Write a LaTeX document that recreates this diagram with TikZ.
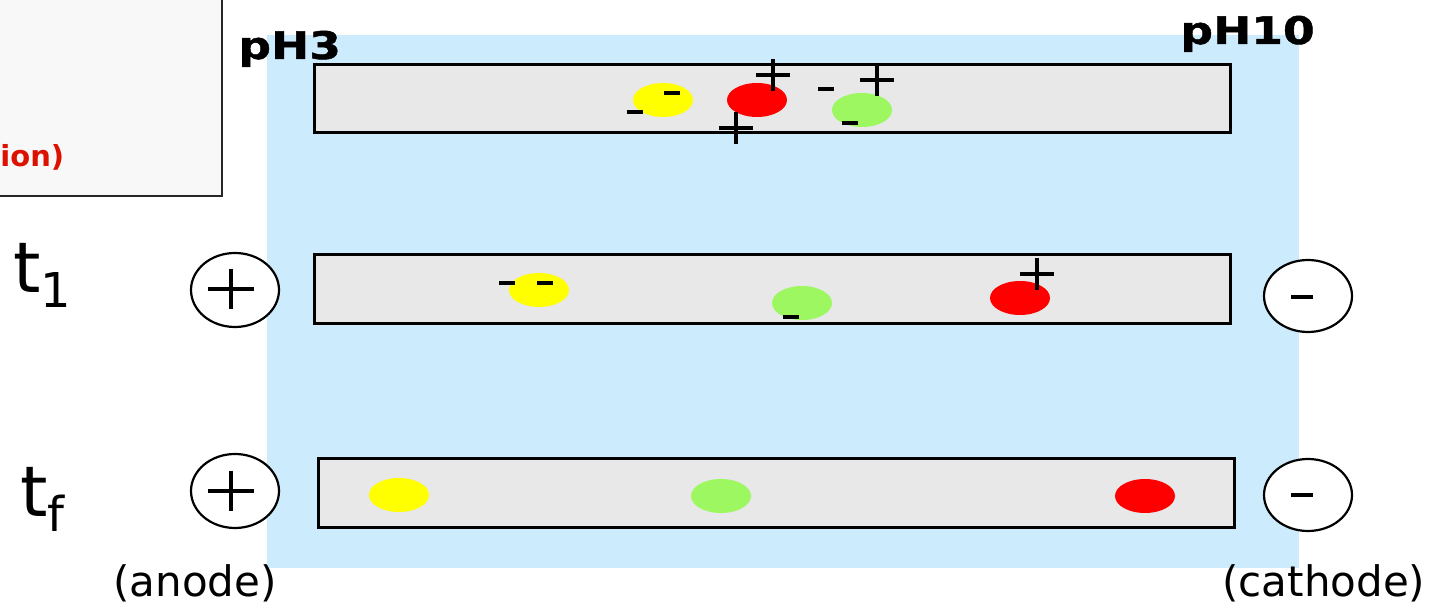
\documentclass[tikz,border=0pt]{standalone}
\usepackage{fontspec}
\setmainfont{DejaVu Sans}
\newfontfamily\phfont[FakeStretch=1.2,FakeBold=1.2]{DejaVu Sans}
\usetikzlibrary{calc}
\definecolor{gelblue}{HTML}{CCEBFC}
\definecolor{stripgray}{HTML}{E8E8E8}
\definecolor{boxgray}{HTML}{F8F8F8}
\definecolor{protY}{HTML}{FFFF00}
\definecolor{protR}{HTML}{FF0000}
\definecolor{protG}{HTML}{9CF760}
\definecolor{legendred}{HTML}{DD1100}
\tikzset{
  stripbox/.style={draw=black, fill=stripgray, line width=1.5pt},
  electrode/.style={draw=black, line width=1.1pt, fill=white},
  chgline/.style={line width=1.6pt, line cap=butt},
  pluschg/.pic={\draw[chgline] (-17,0) -- (17,0) (0,-16) -- (0,16);},
  minuschg/.pic={\draw[line width=2pt] (-8,0) -- (8,0);},
  anodesign/.pic={\draw[line width=1.75pt] (-23,0) -- (23,0) (0,-20) -- (0,20);},
  cathodesign/.pic={\draw[line width=2.2pt] (-11,0) -- (11,0);},
}
\begin{document}
\begin{tikzpicture}[x=0.5pt, y=-0.5pt]
\useasboundingbox (0,0) rectangle (1435,608);

% legend box cut by the left border
\draw[draw=black!85, fill=boxgray, line width=1.1pt] (-20,-20) rectangle (222,196);
\node[anchor=base west, inner sep=0pt, text=legendred, font=\fontsize{14.5}{16}\selectfont\bfseries] (legend) at (0,167) {ion)};

% gel background
\fill[gelblue] (267,35) rectangle (1299,568);

% pH labels
\node[anchor=base west, inner sep=0pt, font=\phfont\fontsize{19}{20}\selectfont\bfseries] (ph3) at (238,59) {pH3};
\node[anchor=base west, inner sep=0pt, font=\phfont\fontsize{19}{20}\selectfont\bfseries] (ph10) at (1180,44) {pH10};

% strips
\draw[stripbox] (314,65) rectangle (1230,133);
\draw[stripbox] (314,255) rectangle (1230,324);
\draw[stripbox] (318,459) rectangle (1234,528);

% start: proteins together
\fill[protY] (663,100) ellipse (15pt and 8.5pt);
\fill[protR] (757,100) ellipse (15pt and 8.5pt);
\fill[protG] (862,110) ellipse (15pt and 8.5pt);
\pic at (635,112) {minuschg};
\pic at (672,93) {minuschg};
\pic at (773,75) {pluschg};
\pic at (736,128) {pluschg};
\pic at (826,89) {minuschg};
\pic at (877,80) {pluschg};
\pic at (850,123) {minuschg};

% t1: proteins migrating
\fill[protY] (539,290) ellipse (15pt and 8.5pt);
\fill[protG] (802,303) ellipse (15pt and 8.5pt);
\fill[protR] (1020,298) ellipse (15pt and 8.5pt);
\pic at (507,283) {minuschg};
\pic at (545,283) {minuschg};
\pic at (791,317) {minuschg};
\pic at (1037,274) {pluschg};

% tf: proteins at their pI
\fill[protY] (399,495) ellipse (15pt and 8.5pt);
\fill[protG] (721,496) ellipse (15pt and 8.5pt);
\fill[protR] (1145,496) ellipse (15pt and 8.5pt);

% electrodes
\draw[electrode] (235,290) ellipse (22pt and 18.5pt);
\pic at (231,289) {anodesign};
\draw[electrode] (235,491) ellipse (22pt and 18.5pt);
\pic at (231,491) {anodesign};
\draw[electrode] (1308,296) ellipse (22pt and 18pt);
\pic at (1302,297) {cathodesign};
\draw[electrode] (1308,495) ellipse (22pt and 18pt);
\pic at (1302,495) {cathodesign};

% time labels
\node[anchor=base west, inner sep=0pt, font=\fontsize{35}{36}\selectfont] (t1) at (13,293)
  {t\raisebox{-7.5pt}{\fontsize{24}{24}\selectfont 1}};
\node[anchor=base west, inner sep=0pt, font=\fontsize{35}{36}\selectfont] (tf) at (20,517)
  {t\raisebox{-7.5pt}{\fontsize{24}{24}\selectfont f}};

% electrode names
\node[anchor=base west, inner sep=0pt, font=\fontsize{21}{22}\selectfont] (anode) at (113,597) {(anode)};
\node[anchor=base west, inner sep=0pt, font=\fontsize{21}{22}\selectfont] (cathode) at (1222,597) {(cathode)};
\end{tikzpicture}
\end{document}
